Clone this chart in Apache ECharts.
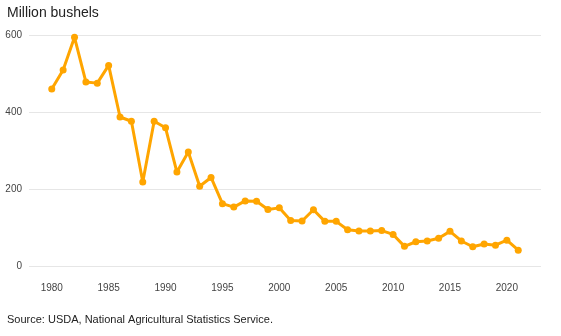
<!DOCTYPE html>
<html>
<head>
<meta charset="utf-8">
<script src="https://cdn.jsdelivr.net/npm/echarts@6/dist/echarts.min.js"></script>
<style>
html,body{margin:0;padding:0;background:#fff;}
#chart{width:561px;height:336px;}
</style>
</head>
<body>
<div id="chart"></div>
<script>
var years = [1980,1981,1982,1983,1984,1985,1986,1987,1988,1989,1990,1991,1992,1993,1994,1995,1996,1997,1998,1999,2000,2001,2002,2003,2004,2005,2006,2007,2008,2009,2010,2011,2012,2013,2014,2015,2016,2017,2018,2019,2020,2021];
var production = [460,509,594,478,475,521,387,376,218,376,359,244,296,207,230,162,153,169,168,147,151,118,117,146,116,116,94,91,91,92,82,51,63,65,72,90,65,50,57,54,67,41];
var xTicks = [1980,1985,1990,1995,2000,2005,2010,2015,2020];
var yTicks = [0,200,400,600];
var title = 'Million bushels';
var source = 'Source: USDA, National Agricultural Statistics Service.';

var chart = echarts.init(document.getElementById('chart'), null, {renderer:'canvas'});
var font = '"Liberation Sans", Arial, sans-serif';
chart.setOption({
  animation: false,
  backgroundColor: '#fff',
  title: [
    {text: title, left: 2, top: 1, textStyle: {fontFamily: font, fontSize: 14, fontWeight: 'normal', color: '#222'}},
    {text: source, left: 2, top: 309, textStyle: {fontFamily: font, fontSize: 11, fontWeight: 'normal', color: '#222'}}
  ],
  grid: {left: 29, right: 20, top: 35, bottom: 70, containLabel: false},
  xAxis: {
    type: 'value', min: 1978, max: 2023,
    axisLine: {show: false}, axisTick: {show: false}, splitLine: {show: false},
    axisLabel: {customValues: xTicks, formatter: function(v){return String(v);}, fontFamily: font, fontSize: 10, color: '#444', margin: 17}
  },
  yAxis: {
    type: 'value', min: 0, max: 600, interval: 200,
    axisLine: {show: false}, axisTick: {show: false},
    splitLine: {lineStyle: {color: '#e6e6e6', width: 1}},
    axisLabel: {fontFamily: font, fontSize: 10, color: '#444', margin: 7, customValues: yTicks}
  },
  series: [{
    type: 'line',
    data: years.map(function(y, i){ return [y, production[i]]; }),
    symbol: 'circle', symbolSize: 7,
    lineStyle: {color: '#FFA500', width: 3},
    itemStyle: {color: '#FFA500'}
  }]
});
</script>
</body>
</html>
